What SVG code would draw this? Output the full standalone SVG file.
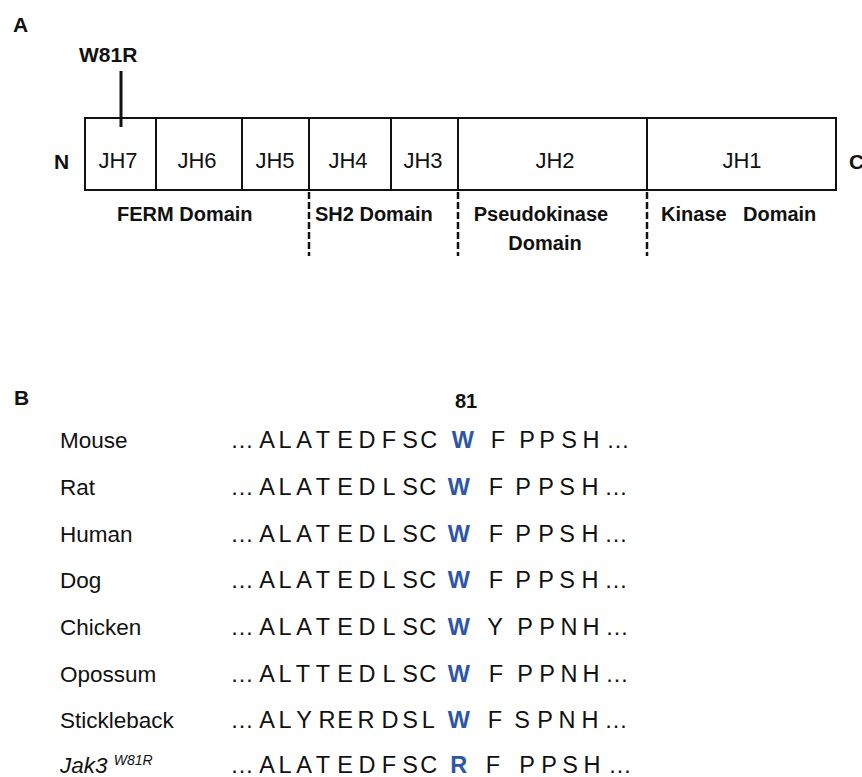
<svg xmlns="http://www.w3.org/2000/svg" width="862" height="777" viewBox="0 0 862 777">
<style>
text{font-family:"Liberation Sans",Arial,sans-serif;fill:#111}
.lbl{font-size:20px;font-weight:bold}
.big{font-size:21px;font-weight:bold}
.jh{font-size:22px;text-anchor:middle}
.name{font-size:22.5px}
.seq{font-size:23.5px;text-anchor:middle}
.hl{fill:#2E55A8;font-weight:bold}
.box{fill:#fff;stroke:#111;stroke-width:2}
.dash{stroke:#111;stroke-width:2.5;stroke-dasharray:7 3;fill:none}
</style>
<rect width="862" height="777" fill="#fff"/>
<g id="panelA">
<text x="13" y="32" class="big">A</text>
<g id="mutation"><text x="79" y="62" class="big">W81R</text></g>
<g id="N"><text x="54" y="169" class="big">N</text></g>
<g id="C"><text x="849" y="169" class="big">C</text></g>
<g id="JH7"><rect class="box" x="85" y="118" width="71" height="72"/><text class="jh" x="118" y="168">JH7</text></g>
<g id="JH6"><rect class="box" x="156" y="118" width="86" height="72"/><text class="jh" x="197" y="168">JH6</text></g>
<g id="JH5"><rect class="box" x="242" y="118" width="67" height="72"/><text class="jh" x="275" y="168">JH5</text></g>
<g id="JH4"><rect class="box" x="309" y="118" width="82" height="72"/><text class="jh" x="348" y="168">JH4</text></g>
<g id="JH3"><rect class="box" x="391" y="118" width="67" height="72"/><text class="jh" x="423" y="168">JH3</text></g>
<g id="JH2"><rect class="box" x="458" y="118" width="189" height="72"/><text class="jh" x="555" y="168">JH2</text></g>
<g id="JH1"><rect class="box" x="647" y="118" width="189" height="72"/><text class="jh" x="742" y="168">JH1</text></g>
<g id="FERM"><text class="lbl" x="117" y="221">FERM Domain</text></g>
<g id="SH2"><text class="lbl" x="315" y="221">SH2 Domain</text></g>
<g id="Pseudokinase"><text class="lbl" x="541" y="221" text-anchor="middle">Pseudokinase</text><text class="lbl" x="545" y="250" text-anchor="middle">Domain</text></g>
<g id="Kinase"><text class="lbl" x="661" y="221">Kinase</text><text class="lbl" x="743" y="221">Domain</text></g>
</g>
<g id="connectors">
<line x1="121" y1="71" x2="121" y2="127" stroke="#111" stroke-width="3"/>
<line class="dash" x1="309" y1="192" x2="309" y2="256"/>
<line class="dash" x1="458" y1="192" x2="458" y2="256"/>
<line class="dash" x1="647" y1="192" x2="647" y2="256"/>
</g>
<g id="panelB">
<text x="14" y="405" class="big">B</text>
<text x="466" y="408" class="big" text-anchor="middle" style="font-size:20px">81</text>
<g id="mouse"><text class="name" x="60" y="448">Mouse</text>
<text class="seq" y="448"><tspan x="242 255 267 276 285 295 304 313 323 334 345 356 367 378 389 400 410 421 432">… A L A T E D F S C</tspan> <tspan class="hl" x="466">W</tspan> <tspan x="498 512 527 537 547 558 569 580 591 605 618">F P P S H …</tspan></text></g>
<g id="rat"><text class="name" x="60" y="495">Rat</text>
<text class="seq" y="495"><tspan x="242 255 267 276 285 295 304 313 323 334 345 356 367 378 389 400 410 421 431">… A L A T E D L S C</tspan> <tspan class="hl" x="462">W</tspan> <tspan x="496 510 523 535 546 556 567 578 590 603 616">F P P S H …</tspan></text></g>
<g id="human"><text class="name" x="60" y="541.5">Human</text>
<text class="seq" y="541.5"><tspan x="242 255 267 276 285 295 304 313 323 334 345 356 367 378 389 400 410 421 431">… A L A T E D L S C</tspan> <tspan class="hl" x="462">W</tspan> <tspan x="496 510 523 535 546 556 567 578 590 603 616">F P P S H …</tspan></text></g>
<g id="dog"><text class="name" x="60" y="588">Dog</text>
<text class="seq" y="588"><tspan x="242 255 267 276 285 295 304 313 323 334 345 356 367 378 389 400 410 421 431">… A L A T E D L S C</tspan> <tspan class="hl" x="462">W</tspan> <tspan x="496 510 523 535 546 556 567 578 590 603 616">F P P S H …</tspan></text></g>
<g id="chicken"><text class="name" x="60" y="635">Chicken</text>
<text class="seq" y="635"><tspan x="242 255 267 276 285 295 304 313 323 334 345 356 367 378 389 400 410 421 431">… A L A T E D L S C</tspan> <tspan class="hl" x="462">W</tspan> <tspan x="495 510 525 536 547 558 569 580 591 604 617">Y P P N H …</tspan></text></g>
<g id="opossum"><text class="name" x="60" y="681.5">Opossum</text>
<text class="seq" y="681.5"><tspan x="242 255 267 276 285 294 303 313 323 334 345 356 367 378 389 400 410 421 431">… A L T T E D L S C</tspan> <tspan class="hl" x="462">W</tspan> <tspan x="496 510 525 536 547 558 569 580 591 604 617">F P P N H …</tspan></text></g>
<g id="stickleback"><text class="name" x="60" y="728">Stickleback</text>
<text class="seq" y="728"><tspan x="242 255 267 276 285 295 304 315 327 336 345 366 378 390 400 410 421 431">… A L Y R ER D S L</tspan> <tspan class="hl" x="462">W</tspan> <tspan x="495 509 522 534 545 556 567 578 590 603 616">F S P N H …</tspan></text></g>
<g id="jak3"><text class="name" x="60" y="773" font-style="italic">Jak3 <tspan font-size="14" dy="-8">W81R</tspan></text>
<text class="seq" y="773"><tspan x="242 255 267 276 285 295 304 313 323 334 345 356 367 378 389 400 410 421 432">… A L A T E D F S C</tspan> <tspan class="hl" x="462">R</tspan> <tspan x="493 510 527 538 549 560 570 581 592 606 620">F P P S H …</tspan></text></g>
</g>
</svg>
